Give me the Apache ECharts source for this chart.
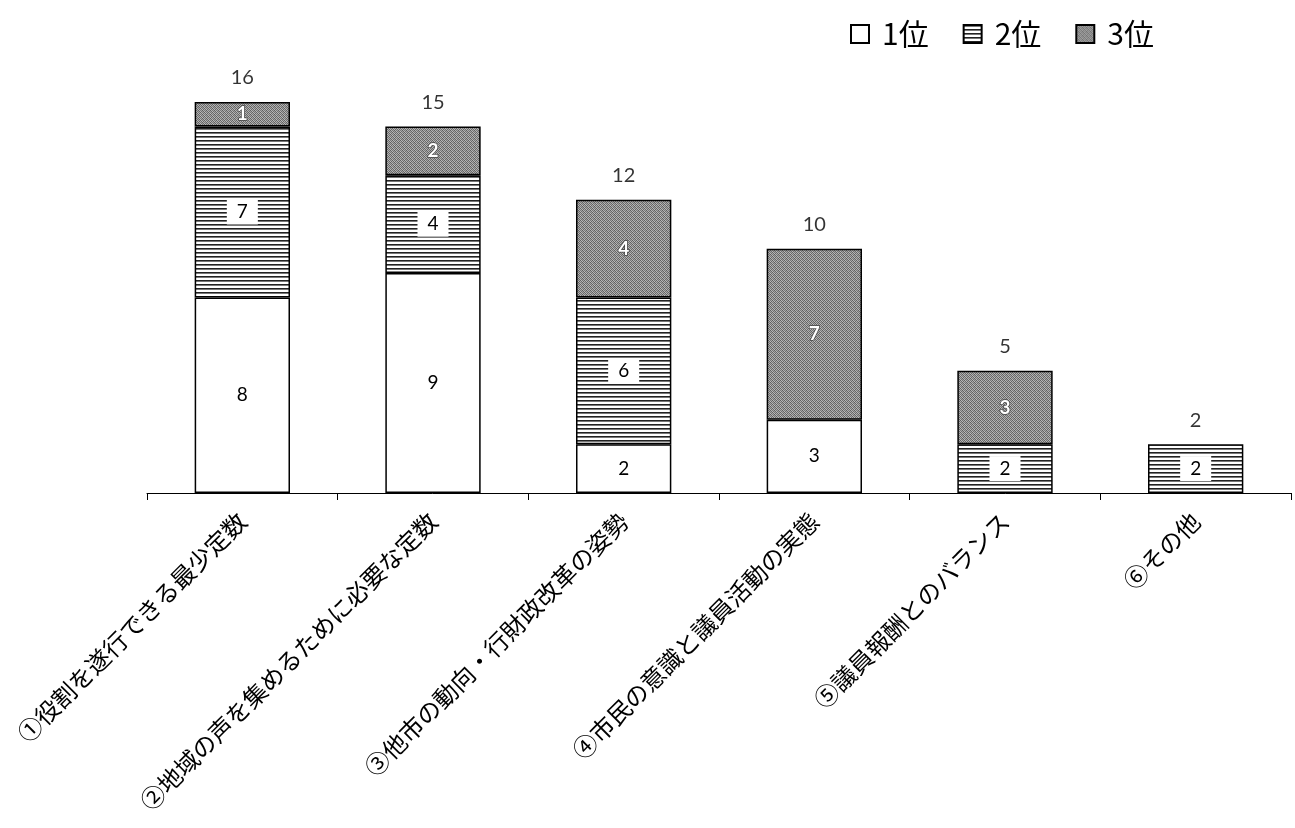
<!DOCTYPE html>
<html>
<head>
<meta charset="utf-8">
<script src="https://cdn.jsdelivr.net/npm/echarts@6/dist/echarts.min.js"></script>
<style>
  html, body { margin: 0; padding: 0; background: #fff; }
  #chart { width: 1295px; height: 828px; }
</style>
</head>
<body>
<div id="chart"></div>
<script>
// Reasons chosen for the council seat count, ranked 1st / 2nd / 3rd
const categories = [
  '①役割を遂行できる最少定数',
  '②地域の声を集めるために必要な定数',
  '③他市の動向・行財政改革の姿勢',
  '④市民の意識と議員活動の実態',
  '⑤議員報酬とのバランス',
  '⑥その他'
];
const seriesNames = ['1位', '2位', '3位'];
const rank1 = [8, 9, 2, 3, 0, 0];
const rank2 = [7, 4, 6, 0, 2, 2];
const rank3 = [1, 2, 4, 7, 3, 0];
const totals = categories.map((_, i) => rank1[i] + rank2[i] + rank3[i]);

// Fill textures: horizontal hatching and a dithered dark grey
function makePattern(w, h, draw) {
  const c = document.createElement('canvas');
  c.width = w; c.height = h;
  draw(c.getContext('2d'));
  return { image: c, repeat: 'repeat' };
}
const stripeFill = makePattern(8, 4, ctx => {
  ctx.fillStyle = '#ffffff'; ctx.fillRect(0, 0, 8, 4);
  ctx.fillStyle = '#222222'; ctx.fillRect(0, 0, 8, 1);
  ctx.fillStyle = '#777777'; ctx.fillRect(0, 1, 8, 1);
});
const greyFill = makePattern(4, 4, ctx => {
  const cells = [
    ['#606060', '#b8b8b8', '#747474', '#a8a8a8'],
    ['#b0b0b0', '#686868', '#bcbcbc', '#646464'],
    ['#787878', '#a6a6a6', '#5e5e5e', '#b2b2b2'],
    ['#bababa', '#6c6c6c', '#a2a2a2', '#666666']
  ];
  for (let y = 0; y < 4; y++) for (let x = 0; x < 4; x++) {
    ctx.fillStyle = cells[y][x]; ctx.fillRect(x, y, 1, 1);
  }
});

const numFont = 'Lato, "Noto Sans", sans-serif';
const jpFont = '"Noto Sans CJK JP", sans-serif';

function segLabel(extra) {
  return Object.assign({
    show: true,
    position: 'inside',
    fontSize: 19,
    fontFamily: numFont,
    color: '#000',
    formatter: p => (p.value ? String(p.value) : '')
  }, extra);
}
const toBarData = arr => arr.map(v => (v ? v : '-'));

const border = { borderColor: '#000', borderWidth: 1.5 };

const option = {
  backgroundColor: '#fff',
  animation: false,
  legend: {
    top: 14,
    left: 845,
    icon: 'rect',
    itemWidth: 18,
    itemHeight: 18,
    itemGap: 34,
    textStyle: { fontSize: 30, fontFamily: jpFont, color: '#000', padding: [0, 0, 0, 8] },
    data: seriesNames
  },
  grid: { left: 147, right: 4, top: 102, bottom: 335 },
  xAxis: {
    type: 'category',
    data: categories,
    axisLine: { lineStyle: { color: '#000', width: 1 } },
    axisTick: { show: true, length: 7, interval: 0, lineStyle: { color: '#000' } },
    axisLabel: {
      interval: 0,
      rotate: 45,
      margin: 24,
      fontSize: 24,
      fontFamily: jpFont,
      color: '#000'
    }
  },
  yAxis: { type: 'value', min: 0, max: 16, show: false, splitLine: { show: false } },
  series: [
    {
      name: '1位', type: 'bar', stack: 'rank', barWidth: '50%',
      data: toBarData(rank1),
      itemStyle: Object.assign({ color: '#ffffff' }, border),
      label: segLabel({})
    },
    {
      name: '2位', type: 'bar', stack: 'rank',
      data: toBarData(rank2),
      itemStyle: Object.assign({ color: stripeFill }, border),
      label: segLabel({ backgroundColor: '#fff', padding: [3, 10] })
    },
    {
      name: '3位', type: 'bar', stack: 'rank',
      data: toBarData(rank3),
      itemStyle: Object.assign({ color: greyFill }, border),
      label: segLabel({ color: '#fff', textBorderColor: '#444', textBorderWidth: 1.5, fontWeight: 'bold' })
    },
    {
      name: 'total', type: 'scatter',
      data: totals,
      symbolSize: 0,
      silent: true,
      label: {
        show: true, position: 'top', distance: 14,
        fontSize: 20, fontFamily: numFont, color: '#000',
        formatter: p => String(p.value)
      }
    }
  ]
};

const chart = echarts.init(document.getElementById('chart'), null, { renderer: 'canvas' });
chart.setOption(option);
</script>
</body>
</html>
